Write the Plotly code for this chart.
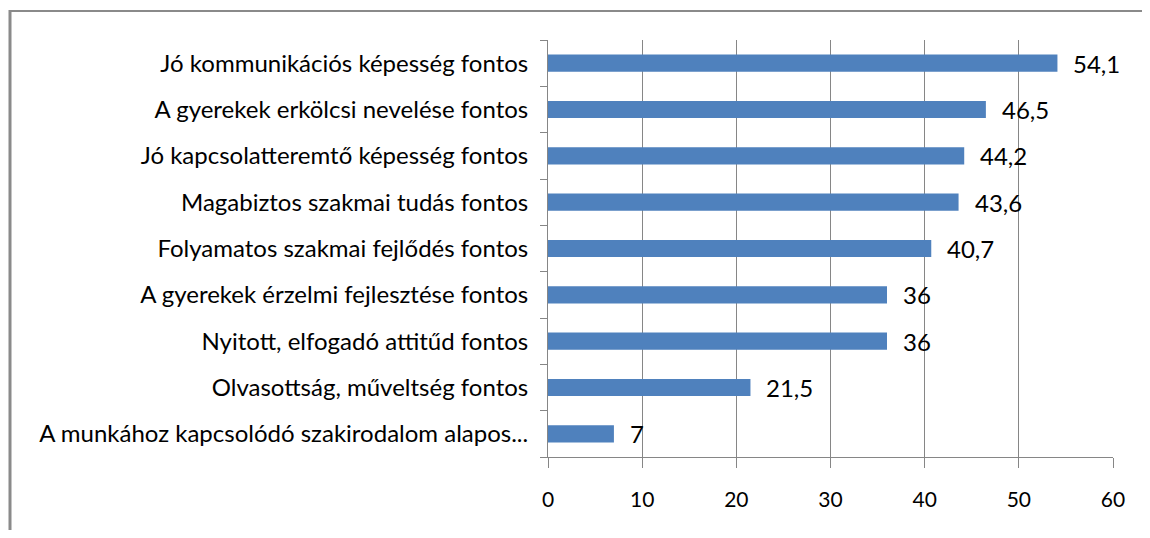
import plotly.graph_objects as go

categories = [
    "Jó kommunikációs képesség fontos",
    "A gyerekek erkölcsi nevelése fontos",
    "Jó kapcsolatteremtő képesség fontos",
    "Magabiztos szakmai tudás fontos",
    "Folyamatos szakmai fejlődés fontos",
    "A gyerekek érzelmi fejlesztése fontos",
    "Nyitott, elfogadó attitűd fontos",
    "Olvasottság, műveltség fontos",
    "A munkához kapcsolódó szakirodalom alapos...",
]
values = [54.1, 46.5, 44.2, 43.6, 40.7, 36, 36, 21.5, 7]
x_ticks = [0, 10, 20, 30, 40, 50, 60]

# page body has an 8px margin, so the figure is a bit smaller and offset
W, H = 1134, 522
L, R, T, B = 540, 29, 32, 73
pw, ph = W - L - R, H - T - B

labels = [f"{v:g}".replace(".", ",") for v in values]

fig = go.Figure()
fig.add_trace(go.Bar(
    y=categories, x=values, orientation="h",
    marker=dict(color="#4F81BD", line=dict(width=0)),
    width=0.37, hoverinfo="skip",
))
for c, v, t in zip(categories, values, labels):
    fig.add_annotation(x=v, y=c, text=t, showarrow=False, xanchor="left",
                       xshift=14, font=dict(size=24, color="#000"))

def px_x(p):
    return (p - L) / pw
def px_y(p):
    return 1 - (p - T) / ph

shapes = [
    dict(type="line", xref="paper", yref="paper", x0=px_x(2), x1=px_x(1142),
         y0=px_y(3), y1=px_y(3), line=dict(color="#8a8a8a", width=2)),
    dict(type="line", xref="paper", yref="paper", x0=px_x(2), x1=px_x(2),
         y0=px_y(2), y1=px_y(530), line=dict(color="#8a8a8a", width=3)),
]

fig.update_layout(
    width=W, height=H,
    margin=dict(l=L, r=R, t=T, b=B, pad=0),
    plot_bgcolor="white", paper_bgcolor="white",
    font=dict(family="Lato, Carlito, sans-serif", size=24, color="#000"),
    showlegend=False,
    shapes=shapes,
    xaxis=dict(range=[0, 60], tickvals=x_ticks, ticktext=[str(v) for v in x_ticks],
               showgrid=True, gridcolor="#868686", gridwidth=1,
               showline=True, linecolor="#868686", linewidth=1,
               ticks="outside", ticklen=10, tickcolor="#868686",
               tickfont=dict(size=21),
               zeroline=False, ticklabelstandoff=14, fixedrange=True),
    yaxis=dict(categoryorder="array", categoryarray=categories[::-1],
               autorange=True, showgrid=False,
               showline=True, linecolor="#868686", linewidth=1,
               ticks="outside", ticklen=7, tickcolor="#868686",
               tickson="boundaries", ticklabelstandoff=14, fixedrange=True),
)

fig.write_html("out.html")
